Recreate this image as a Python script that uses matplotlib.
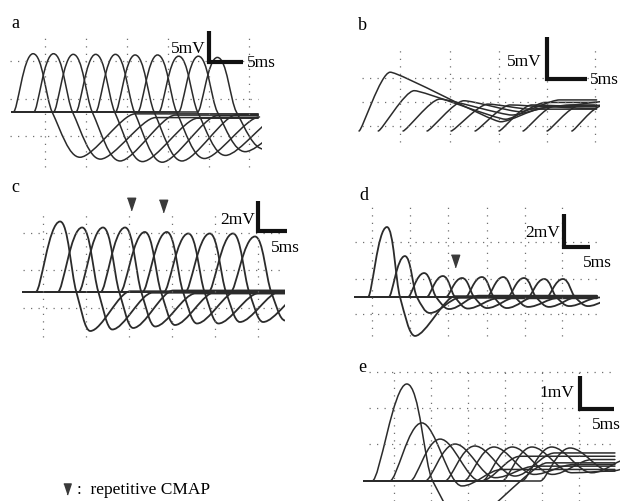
import numpy as np
import matplotlib.pyplot as plt
from matplotlib.path import Path
from matplotlib.patches import PathPatch
from matplotlib.lines import Line2D

# ---- data (ms, mV) ----
# times: onset of each CMAP, then delays after the onset / after the peak
# a
a_onset = [0.2, 3.2, 6.1, 9.4, 12.3, 15.2, 18.5, 21.6, 24.5, 27.3]
a_rise = 2.9
a_peak = [9.4, 9.4, 9.3, 9.3, 9.3, 9.2, 9.2, 9.0, 9.0, 8.8]
a_zero_dt = 2.8
a_dip_dt = 6.9
a_dip = [-7.3, -7.6, -7.9, -8.0, -8.1, -7.9, -7.5, -7.0, -6.4, -6.0]
a_settle_dt = 8.1
a_end = [-0.3, -0.9, -0.5, -1.0, -0.6, -0.4, -0.8, -0.55, -0.7, -0.45]

# b
b_onset = [0.5, 2.9, 6.0, 9.0, 12.0, 15.0, 18.0, 21.0, 24.0, 27.1]
b_rise = [3.9, 4.5, 4.6, 4.6, 4.6, 4.4, 4.1, 4.0, 4.0, 3.8]
b_peak = [7.0, 4.8, 3.8, 3.6, 3.2, 3.1, 3.1, 3.0, 3.0, 3.0]
b_dip_dt = [13.8, 11.4, 9.0, 7.0, 5.3, 4.4, 4.0, 3.8, 3.8, 3.8]
b_dip = [1.1, 1.4, 1.9, 2.3, 2.6, 2.9, 3.0, 3.0, 3.0, 3.0]
b_settle_dt = 5.0
b_end = [2.6, 3.4, 2.9, 3.7, 3.1, 2.7, 3.5, 3.2, 2.8, 3.6]

# c
c_onset = [2.2, 6.0, 9.6, 13.4, 16.8, 20.6, 24.3, 28.0, 32.0, 35.8]
c_rise = 4.2
c_peak = [4.7, 4.3, 4.3, 4.3, 4.0, 4.0, 3.9, 3.9, 3.9, 3.7]
c_zero_dt = 2.8
c_dip_dt = 5.2
c_dip = [-2.6, -2.5, -2.4, -2.3, -2.2, -2.1, -2.1, -2.0, -2.0, -1.9]
c_settle_dt = 6.9
c_end = [0.05, -0.05, 0.1, -0.1, 0.0, 0.08, -0.08, 0.03, -0.03, 0.06]
c_arrow_t = [18.6, 24.1]
c_arrow_v = [5.85, 5.75]

# d
d_onset = [2.5, 6.5, 10.2, 13.8, 17.5, 21.3, 25.4, 29.4, 33.3, 36.9]
d_rise = [3.65, 3.1, 3.1, 3.1, 3.1, 3.1, 3.1, 3.1, 3.1, 3.1]
d_peak = [4.24, 2.48, 1.45, 1.27, 1.15, 1.21, 1.21, 1.15, 1.09, 1.09]
d_zero_dt = [2.5, 2.3, 2.3, 2.3, 2.3, 2.3, 2.3, 2.3, 2.3, 2.3]
d_dip_dt = [5.4, 4.8, 4.8, 4.8, 4.8, 4.8, 4.8, 4.8, 4.8, 4.8]
d_dip = [-2.36, -0.97, -0.73, -0.7, -0.67, -0.67, -0.6, -0.6, -0.55, -0.55]
d_settle_dt = [7.7, 5.8, 5.8, 5.8, 5.8, 5.8, 5.8, 5.8, 5.8, 5.8]
d_end = [0.05, -0.05, 0.08, -0.08, 0.0, 0.06, -0.06, 0.03, -0.03, 0.04]
d_arrow_t = [19.2]
d_arrow_v = [2.18]

# e
e_onset = [1.2, 3.8, 6.8, 9.0, 11.9, 14.7, 17.4, 20.3, 23.2, 25.9]
e_rise = [5.1, 4.7, 4.4, 4.4, 4.4, 4.4, 4.4, 4.4, 4.4, 4.4]
e_peak = [2.94, 1.76, 1.27, 1.12, 1.06, 1.03, 1.03, 1.03, 1.03, 1.0]
e_zero_dt = [3.8, np.nan, np.nan, np.nan, np.nan, np.nan, np.nan, np.nan, np.nan, np.nan]
e_dip_dt = [8.8, 5.9, 5.9, 5.9, 5.9, 5.9, 5.9, 5.9, 5.9, 5.9]
e_dip = [-1.3, -0.15, 0.0, 0.1, 0.15, 0.2, 0.2, 0.25, 0.25, 0.3]
e_settle_dt = [11.8, 5.9, 5.9, 5.9, 5.9, 5.9, 5.9, 5.9, 5.9, 5.9]
e_end = [0.55, 0.35, 0.75, 0.45, 0.85, 0.5, 0.65, 0.3, 0.7, 0.6]

INK = "#2b2b2b"
SERIF = "Liberation Serif"
W, H = 624, 502
fig = plt.figure(figsize=(W / 100, H / 100), dpi=100)


def make_panel(px_box, origin, px_ms, px_mv):
    x0, y0, x1, y1 = px_box
    ox, oy = origin
    ax = fig.add_axes([x0 / W, 1 - y1 / H, (x1 - x0) / W, (y1 - y0) / H])
    ax.set_xlim((x0 - ox) / px_ms, (x1 - ox) / px_ms)
    ax.set_ylim((oy - y1) / px_mv, (oy - y0) / px_mv)
    ax.axis("off")
    return ax


def grid(ax, ts, t_span, vs, v_span):
    st = dict(colors="#707070", linewidths=0.9, linestyles=(0, (1, 5)))
    ax.vlines(ts, v_span[0], v_span[1], **st)
    ax.hlines(vs, t_span[0], t_span[1], **st)


def traces(ax, onset, rise, peak, zero_dt, dip_dt, dip, settle_dt, end, t_end,
           start=0.0, h_on=0.22, h_pk=0.5, cap=2.0, lw=1.1):
    n = len(onset)
    rise, zero_dt, dip_dt, settle_dt = (np.broadcast_to(np.asarray(x, float), n)
                                        for x in (rise, zero_dt, dip_dt, settle_dt))
    for i in range(n):
        t0 = onset[i]
        tp = t0 + rise[i]
        td = tp + dip_dt[i]
        ts = td + settle_dt[i]
        # (time, value, slope, handle)
        keys = [(t0, 0.0, 0.0, h_on), (tp, peak[i], 0.0, h_pk)]
        if np.isfinite(zero_dt[i]):
            tz = tp + zero_dt[i]
            s1 = -peak[i] / (tz - tp)
            s2 = dip[i] / (td - tz)
            keys.append((tz, 0.0, 2.0 / (1.0 / s1 + 1.0 / s2), 0.33))
        keys += [(td, dip[i], 0.0, 0.4), (ts, end[i], 0.0, 0.4)]
        if start is None:
            verts, codes = [(t0, 0.0)], [Path.MOVETO]
        else:
            verts, codes = [(start, 0.0), (t0, 0.0)], [Path.MOVETO, Path.LINETO]
        for (ta, va, ma, ha), (tb, vb, mb, hb) in zip(keys[:-1], keys[1:]):
            d = tb - ta
            la, lb = min(ha * d, cap), min(hb * d, cap)
            verts += [(ta + la, va + ma * la), (tb - lb, vb - mb * lb), (tb, vb)]
            codes += [Path.CURVE4] * 3
        if t_end > ts:
            verts.append((t_end, end[i]))
            codes.append(Path.LINETO)
        ax.add_patch(PathPatch(Path(verts, codes), fill=False, ec=INK, lw=lw,
                               capstyle="round", joinstyle="round"))


def scale_bar(ax, t, v, dv, mv_label, mv_off, ms_off, ms_ha):
    ax.plot([t, t, t + 5], [v + dv, v, v], color="#111", lw=3,
            solid_joinstyle="miter", solid_capstyle="butt", clip_on=False)
    kw = dict(textcoords="offset points", va="center", fontsize=12.5,
              family=SERIF, annotation_clip=False)
    ax.annotate(mv_label, (t, v), xytext=mv_off, ha="right", **kw)
    ax.annotate("5ms", (t + 5, v), xytext=ms_off, ha=ms_ha, **kw)


ARROW = [(-0.5, 0.75), (0.5, 0.75), (0.0, -0.75)]

# panel a
ax = make_panel((8, 30, 262, 170), (12, 113), 6.8, 6.2)
grid(ax, [4.9, 10.9, 16.9, 22.9, 28.9, 34.9], (-0.3, 36.2), [8.2, 2.1, -3.9], (-8.9, 12.1))
traces(ax, a_onset, a_rise, a_peak, a_zero_dt, a_dip_dt, a_dip, a_settle_dt, a_end, 36.2)
scale_bar(ax, 29.0, 8.06, 5, "5mV", (-2.9, 10), (2.9, 0), "left")

# panel b
ax = make_panel((350, 30, 600, 150), (355, 132), 8.0, 8.4)
grid(ax, [5.6, 11.9, 18.0, 24.0, 30.0], (0.9, 30.0), [6.3, 3.45, 0.6], (-1.3, 9.8))
traces(ax, b_onset, b_rise, b_peak, np.nan, b_dip_dt, b_dip, b_settle_dt, b_end, 30.2,
       start=None, h_on=0.1, h_pk=0.45, cap=1.2)
scale_bar(ax, 24.0, 6.19, 5, "5mV", (-3.6, 13), (2.2, 0), "left")

# panel c
ax = make_panel((15, 195, 285, 342), (23, 293), 5.8, 15.0)
grid(ax, [3.5, 10.9, 18.3, 25.7, 33.1, 40.5], (0.0, 45.0), [3.93, 1.47, -1.07], (-3.0, 5.4))
traces(ax, c_onset, c_rise, c_peak, c_zero_dt, c_dip_dt, c_dip, c_settle_dt, c_end, 45.2, lw=1.3)
ax.plot(c_arrow_t, c_arrow_v, ls="none", marker=ARROW, ms=9, color="#3a3a3a")
scale_bar(ax, 40.5, 4.07, 2, "2mV", (-2.2, 8.6), (-1.4, -11.5), "center")

# panel d
ax = make_panel((350, 200, 600, 345), (355, 298), 5.2, 16.5)
grid(ax, [3.3, 10.6, 17.9, 25.4, 32.7, 39.8], (0.0, 46.5), [3.33, 1.09, -1.03], (-2.36, 5.45))
traces(ax, d_onset, d_rise, d_peak, d_zero_dt, d_dip_dt, d_dip, d_settle_dt, d_end, 46.5, lw=1.3)
ax.plot(d_arrow_t, d_arrow_v, ls="none", marker=ARROW, ms=9, color="#3a3a3a")
scale_bar(ax, 40.2, 3.03, 2, "2mV", (-2.9, 10.8), (5, -10.8), "center")

# panel e
ax = make_panel((350, 365, 620, 502), (364, 482), 6.8, 33.0)
grid(ax, [4.4, 9.9, 15.3, 20.7, 26.2, 31.6], (0.7, 36.9), [3.3, 2.2, 1.12], (-0.6, 3.3))
traces(ax, e_onset, e_rise, e_peak, e_zero_dt, e_dip_dt, e_dip, e_settle_dt, e_end, 36.9)
scale_bar(ax, 31.8, 2.18, 1, "1mV", (-4.3, 12.2), (-5.8, -10.8), "center")

# panel letters
for lab, (px, py) in zip("abcde", [(15, 23), (362, 25), (15, 187), (364, 195), (362, 368)]):
    fig.text(px / W, 1 - py / H, lab, fontsize=13, family=SERIF, ha="center", va="center")

# legend
fig.add_artist(Line2D([67 / W], [1 - 490 / H], transform=fig.transFigure, ls="none",
                      marker=ARROW, ms=8, color="#3a3a3a"))
fig.text(77 / W, 1 - 490 / H, ":  repetitive CMAP", fontsize=12.5, family=SERIF,
         ha="left", va="center")

fig.savefig("out.png", dpi=100)
